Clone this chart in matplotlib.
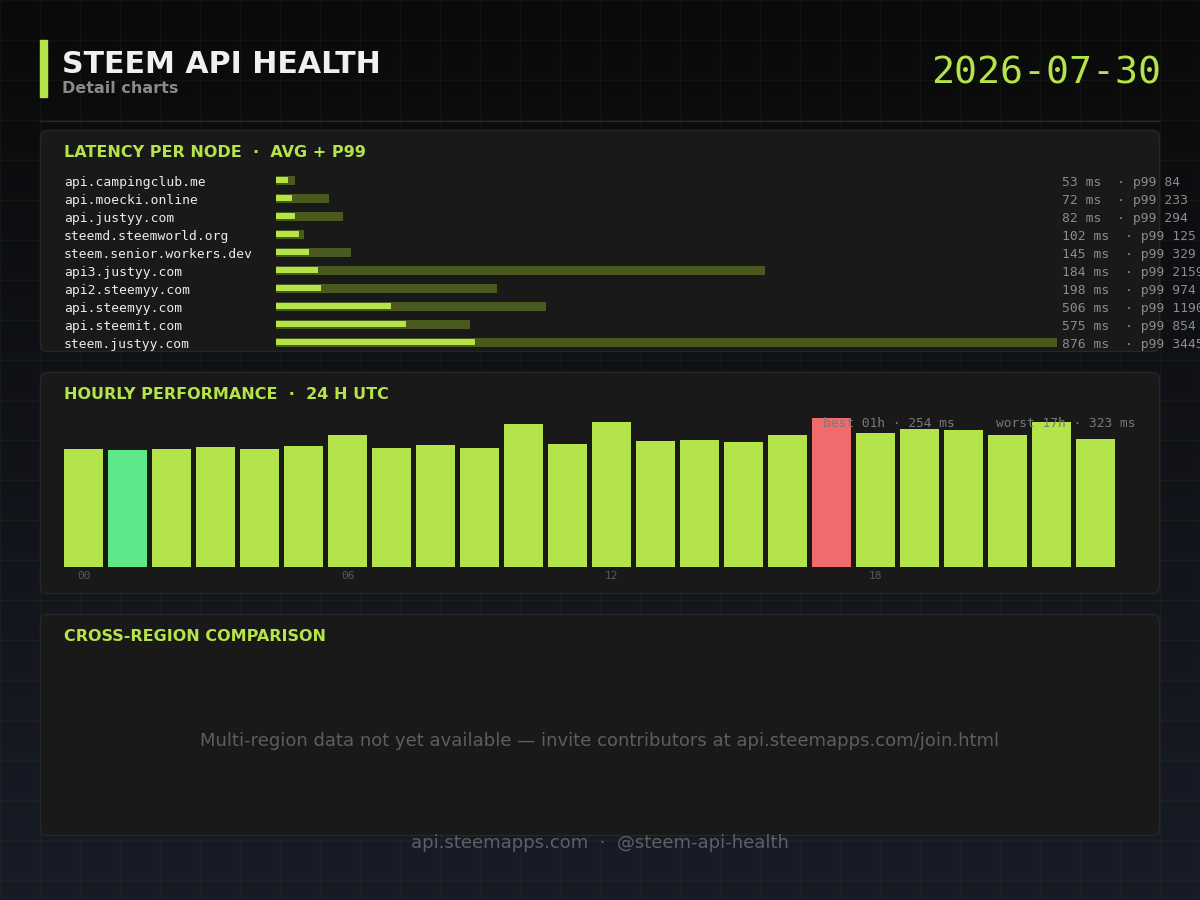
import numpy as np
import matplotlib
matplotlib.use("Agg")
import matplotlib.pyplot as plt
from matplotlib.patches import FancyBboxPatch
from matplotlib.colors import LinearSegmentedColormap
import matplotlib.transforms as mtransforms

# ---------------- data ----------------
title = "STEEM API HEALTH"
subtitle = "Detail charts"
date_label = "2026-07-30"

nodes = ["api.campingclub.me", "api.moecki.online", "api.justyy.com",
         "steemd.steemworld.org", "steem.senior.workers.dev", "api3.justyy.com",
         "api2.steemyy.com", "api.steemyy.com", "api.steemit.com", "steem.justyy.com"]
avg_ms = [53, 72, 82, 102, 145, 184, 198, 506, 575, 876]
p99_ms = [84, 233, 294, 125, 329, 2159, 974, 1190, 854, 3445]

hours = list(range(24))
hour_ms = [256, 254, 256, 260, 255, 262, 286, 258, 265, 258, 310, 267,
           315, 273, 276, 271, 286, 323, 291, 299, 297, 286, 315, 278]
hour_ticks = [0, 6, 12, 18]
hour_tick_labels = ["00", "06", "12", "18"]

panel_titles = ["LATENCY PER NODE  \u00b7  AVG + P99",
                "HOURLY PERFORMANCE  \u00b7  24 H UTC",
                "CROSS-REGION COMPARISON"]
empty_msg = "Multi-region data not yet available \u2014 invite contributors at api.steemapps.com/join.html"
footer = "api.steemapps.com  \u00b7  @steem-api-health"

# ---------------- style ----------------
LIME = "#b5e34a"
OLIVE = "#4a5a1e"
BEST = "#5ee88a"
WORST = "#f06b6b"
PANEL = "#191919"
PANEL_EDGE = "#272727"
SANS = "DejaVu Sans"
MONO = "DejaVu Sans Mono"

W, H = 1200, 900
fig = plt.figure(figsize=(12, 9), dpi=100)


def px_axes(x0, y0, x1, y1):
    return fig.add_axes([x0 / W, 1 - y1 / H, (x1 - x0) / W, (y1 - y0) / H])


# background axes in pixel coordinates
bg = fig.add_axes([0, 0, 1, 1])
bg.set_xlim(0, W)
bg.set_ylim(H, 0)
bg.axis("off")
cmap = LinearSegmentedColormap.from_list("bgc", ["#0a0a0a", "#181c27"])
bg.imshow(np.linspace(0, 1, 256).reshape(-1, 1), extent=[0, W, H, 0],
          cmap=cmap, aspect="auto", zorder=0)
bg.vlines(np.arange(0, W + 1, 40), 0, H, color=LIME, alpha=0.04, lw=1, zorder=1)
bg.hlines(np.arange(0, H + 1, 40), 0, W, color=LIME, alpha=0.04, lw=1, zorder=1)

# header
bg.add_patch(plt.Rectangle((40, 40), 7, 57, color=LIME, zorder=3))
bg.hlines(120.5, 40, 1160, color="#2a2a2a", lw=1, zorder=3)

panels = []
for (y0, y1) in [(130, 352), (372, 594), (614, 836)]:
    p = FancyBboxPatch((40.5, y0 + 0.5), 1119, y1 - y0 - 1,
                       boxstyle="round,pad=0,rounding_size=7",
                       fc=PANEL, ec=PANEL_EDGE, lw=1, zorder=2)
    bg.add_patch(p)
    panels.append(p)

# ---------------- latency per node ----------------
axL = px_axes(276, 171, 1057, 351)
axL.set_xlim(0, max(p99_ms))
axL.set_ylim(len(nodes) - 0.5, -0.5)
axL.axis("off")
axL.patch.set_visible(False)
ypos = np.arange(len(nodes))
axL.barh(ypos, p99_ms, height=0.5, color=OLIVE, left=0)
axL.barh(ypos + 0.01, avg_ms, height=0.3, color=LIME, left=0)

# ---------------- hourly performance ----------------
axH = px_axes(61.5, 412, 1117.5, 566.7)
axH.set_xlim(-0.5, 23.5)
axH.set_ylim(0, 154.7 * 2.175)
axH.axis("off")
axH.patch.set_visible(False)
best_i = int(np.argmin(hour_ms))
worst_i = int(np.argmax(hour_ms))
hcolors = [BEST if i == best_i else WORST if i == worst_i else LIME for i in hours]
axH.bar(hours, hour_ms, width=39 / 44, color=hcolors)

# ---------------- overlay text ----------------
fg = fig.add_axes([0, 0, 1, 1])
fg.set_xlim(0, W)
fg.set_ylim(H, 0)
fg.axis("off")
fg.patch.set_visible(False)

fg.text(62, 73, title, fontsize=21.6, fontweight="bold", color="#f0f0f0",
        family=SANS, va="baseline", ha="left")
fg.text(62, 93, subtitle, fontsize=11.5, fontweight="bold", color="#8a8a8a",
        family=SANS, va="baseline", ha="left")
fg.text(1161, 84, date_label, fontsize=27.5, color=LIME, family=MONO,
        va="baseline", ha="right")

for (y0, _), t in zip([(130, 352), (372, 594), (614, 836)], panel_titles):
    fg.text(64, y0 + 27, t, fontsize=11.5, fontweight="bold", color=LIME,
            family=SANS, va="baseline", ha="left")

blendL = mtransforms.blended_transform_factory(fg.transData, axL.transData)
for i, (n, a, p) in enumerate(zip(nodes, avg_ms, p99_ms)):
    fg.text(64, i + 0.31, n, transform=blendL, fontsize=9.4, color="#ececec",
            family=MONO, va="baseline", ha="left")
    t = fg.text(1062, i + 0.31, f"{a} ms  \u00b7 p99 {p}", transform=blendL,
                fontsize=9.4, color="#8c8c8c", family=MONO, va="baseline", ha="left")
    t.set_clip_path(panels[0])

blendH = mtransforms.blended_transform_factory(axH.transData, fg.transData)
for h, lab in zip(hour_ticks, hour_tick_labels):
    fg.text(h, 579, lab, transform=blendH, fontsize=8, color="#5a5a5a",
            family=MONO, va="baseline", ha="center")

fg.text(1136, 427, f"worst {worst_i:02d}h \u00b7 {hour_ms[worst_i]} ms",
        fontsize=9.3, color="#7a7a7a", family=MONO, va="baseline", ha="right")
fg.text(955, 427, f"best {best_i:02d}h \u00b7 {hour_ms[best_i]} ms",
        fontsize=9.3, color="#7a7a7a", family=MONO, va="baseline", ha="right")

fg.text(600, 741, empty_msg, fontsize=13, color="#5e5e5e", family=SANS,
        va="center", ha="center")
fg.text(600, 843, footer, fontsize=13, color="#5e6066", family=SANS,
        va="center", ha="center")

fig.savefig("out.png", dpi=100)
